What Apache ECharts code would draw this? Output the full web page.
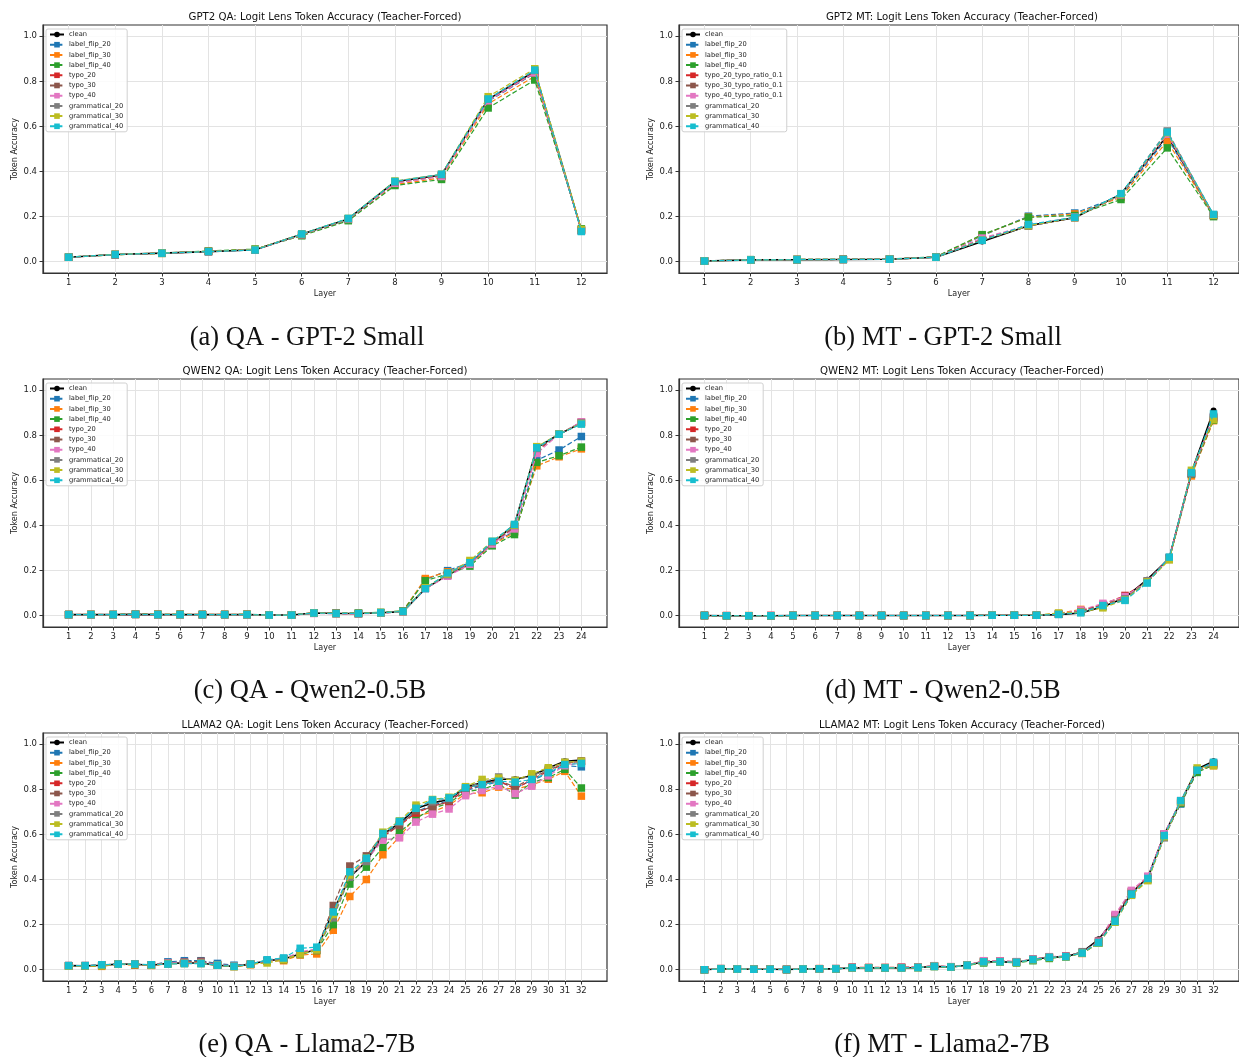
<!DOCTYPE html>
<html>
<head>
<meta charset="utf-8">
<script src="https://cdn.jsdelivr.net/npm/echarts@6/dist/echarts.min.js"></script>
<style>
  html, body { margin: 0; padding: 0; background: #fff; }
  #chart { width: 1239px; height: 1057px; }
</style>
</head>
<body>
<div id="chart"></div>
<script>
// series labels, same order as the rows of every value table below
const seriesNames = ['clean', 'label_flip_20', 'label_flip_30', 'label_flip_40', 'typo_20', 'typo_30', 'typo_40', 'grammatical_20', 'grammatical_30', 'grammatical_40']
const gpt2MtNames = ['clean', 'label_flip_20', 'label_flip_30', 'label_flip_40', 'typo_20_typo_ratio_0.1', 'typo_30_typo_ratio_0.1', 'typo_40_typo_ratio_0.1', 'grammatical_20', 'grammatical_30', 'grammatical_40']
const seriesColors = ['#000000', '#1f77b4', '#ff7f0e', '#2ca02c', '#d62728', '#8c564b', '#e377c2', '#7f7f7f', '#bcbd22', '#17becf']

const layers12 = [1, 2, 3, 4, 5, 6, 7, 8, 9, 10, 11, 12]
const layers24 = [1, 2, 3, 4, 5, 6, 7, 8, 9, 10, 11, 12, 13, 14, 15, 16, 17, 18, 19, 20, 21, 22, 23, 24]
const layers32 = [1, 2, 3, 4, 5, 6, 7, 8, 9, 10, 11, 12, 13, 14, 15, 16, 17, 18, 19, 20, 21, 22, 23, 24, 25, 26, 27, 28, 29, 30, 31, 32]
const yTicks = [0, 0.2, 0.4, 0.6, 0.8, 1.0]

const gpt2QA = [
  [0.020, 0.032, 0.038, 0.045, 0.053, 0.122, 0.190, 0.355, 0.385, 0.720, 0.845, 0.140],
  [0.020, 0.032, 0.038, 0.046, 0.054, 0.120, 0.188, 0.350, 0.380, 0.712, 0.835, 0.138],
  [0.020, 0.031, 0.037, 0.046, 0.054, 0.118, 0.185, 0.342, 0.372, 0.700, 0.822, 0.142],
  [0.021, 0.031, 0.037, 0.048, 0.056, 0.115, 0.182, 0.338, 0.365, 0.682, 0.806, 0.146],
  [0.020, 0.032, 0.038, 0.045, 0.053, 0.121, 0.189, 0.352, 0.382, 0.718, 0.840, 0.139],
  [0.020, 0.032, 0.038, 0.045, 0.053, 0.121, 0.189, 0.350, 0.380, 0.716, 0.838, 0.140],
  [0.020, 0.032, 0.038, 0.045, 0.053, 0.120, 0.188, 0.348, 0.378, 0.714, 0.838, 0.139],
  [0.020, 0.032, 0.038, 0.045, 0.053, 0.122, 0.190, 0.354, 0.386, 0.722, 0.848, 0.137],
  [0.020, 0.033, 0.039, 0.046, 0.054, 0.123, 0.192, 0.358, 0.388, 0.732, 0.856, 0.143],
  [0.020, 0.032, 0.038, 0.045, 0.052, 0.123, 0.192, 0.356, 0.388, 0.722, 0.850, 0.134]
]

const gpt2MT = [
  [0.003, 0.008, 0.009, 0.010, 0.011, 0.020, 0.090, 0.160, 0.195, 0.300, 0.560, 0.205],
  [0.003, 0.009, 0.010, 0.011, 0.012, 0.021, 0.115, 0.202, 0.216, 0.292, 0.550, 0.206],
  [0.003, 0.009, 0.010, 0.011, 0.012, 0.021, 0.118, 0.198, 0.212, 0.285, 0.535, 0.204],
  [0.003, 0.009, 0.010, 0.011, 0.012, 0.022, 0.120, 0.197, 0.205, 0.276, 0.505, 0.200],
  [0.003, 0.008, 0.009, 0.010, 0.011, 0.020, 0.100, 0.160, 0.196, 0.298, 0.565, 0.206],
  [0.003, 0.008, 0.009, 0.010, 0.011, 0.020, 0.102, 0.158, 0.196, 0.296, 0.568, 0.205],
  [0.003, 0.008, 0.009, 0.010, 0.011, 0.020, 0.105, 0.162, 0.198, 0.297, 0.566, 0.206],
  [0.003, 0.008, 0.009, 0.010, 0.011, 0.020, 0.095, 0.158, 0.196, 0.300, 0.580, 0.207],
  [0.003, 0.008, 0.009, 0.010, 0.011, 0.020, 0.096, 0.160, 0.196, 0.299, 0.572, 0.206],
  [0.003, 0.008, 0.009, 0.010, 0.011, 0.020, 0.095, 0.165, 0.197, 0.302, 0.575, 0.210]
]

const qwen2QA = [
  [0.005, 0.005, 0.005, 0.006, 0.005, 0.005, 0.005, 0.005, 0.005, 0.003, 0.003, 0.012, 0.010, 0.010, 0.013, 0.018, 0.120, 0.180, 0.230, 0.320, 0.405, 0.745, 0.805, 0.855],
  [0.005, 0.005, 0.005, 0.007, 0.005, 0.005, 0.005, 0.005, 0.005, 0.004, 0.004, 0.012, 0.011, 0.010, 0.013, 0.020, 0.160, 0.200, 0.235, 0.320, 0.375, 0.690, 0.735, 0.795],
  [0.005, 0.006, 0.005, 0.007, 0.006, 0.006, 0.006, 0.006, 0.006, 0.004, 0.004, 0.013, 0.011, 0.011, 0.014, 0.021, 0.165, 0.195, 0.228, 0.315, 0.370, 0.665, 0.705, 0.740],
  [0.005, 0.005, 0.005, 0.007, 0.006, 0.006, 0.005, 0.005, 0.006, 0.004, 0.004, 0.012, 0.011, 0.012, 0.015, 0.022, 0.155, 0.185, 0.220, 0.310, 0.360, 0.680, 0.710, 0.748],
  [0.005, 0.005, 0.005, 0.006, 0.005, 0.005, 0.005, 0.005, 0.005, 0.003, 0.003, 0.011, 0.010, 0.009, 0.012, 0.018, 0.122, 0.178, 0.232, 0.322, 0.390, 0.730, 0.805, 0.858],
  [0.005, 0.005, 0.005, 0.006, 0.005, 0.005, 0.005, 0.005, 0.005, 0.003, 0.003, 0.011, 0.010, 0.009, 0.012, 0.019, 0.122, 0.180, 0.232, 0.322, 0.395, 0.735, 0.806, 0.858],
  [0.004, 0.004, 0.004, 0.006, 0.004, 0.004, 0.004, 0.004, 0.004, 0.003, 0.002, 0.010, 0.009, 0.008, 0.011, 0.018, 0.120, 0.175, 0.228, 0.318, 0.385, 0.720, 0.805, 0.860],
  [0.005, 0.005, 0.005, 0.006, 0.005, 0.005, 0.005, 0.005, 0.005, 0.003, 0.003, 0.012, 0.010, 0.010, 0.013, 0.019, 0.122, 0.182, 0.238, 0.328, 0.400, 0.742, 0.806, 0.855],
  [0.005, 0.005, 0.005, 0.006, 0.005, 0.005, 0.005, 0.005, 0.005, 0.003, 0.003, 0.012, 0.010, 0.010, 0.013, 0.019, 0.124, 0.185, 0.245, 0.330, 0.402, 0.750, 0.806, 0.852],
  [0.005, 0.005, 0.005, 0.006, 0.005, 0.005, 0.005, 0.005, 0.005, 0.003, 0.003, 0.012, 0.010, 0.010, 0.013, 0.019, 0.120, 0.190, 0.235, 0.330, 0.405, 0.745, 0.805, 0.850]
]

const qwen2MT = [
  [0.001, 0.000, 0.000, 0.000, 0.001, 0.001, 0.001, 0.001, 0.001, 0.001, 0.001, 0.001, 0.001, 0.002, 0.002, 0.002, 0.005, 0.012, 0.040, 0.080, 0.160, 0.255, 0.635, 0.910],
  [0.001, 0.000, 0.000, 0.000, 0.001, 0.001, 0.001, 0.001, 0.001, 0.001, 0.001, 0.001, 0.001, 0.002, 0.002, 0.002, 0.006, 0.018, 0.045, 0.078, 0.150, 0.255, 0.630, 0.880],
  [0.001, 0.001, 0.001, 0.001, 0.001, 0.001, 0.001, 0.001, 0.001, 0.001, 0.001, 0.001, 0.001, 0.003, 0.002, 0.002, 0.010, 0.028, 0.045, 0.080, 0.150, 0.250, 0.620, 0.865],
  [0.001, 0.000, 0.000, 0.000, 0.001, 0.001, 0.001, 0.001, 0.001, 0.001, 0.001, 0.001, 0.001, 0.002, 0.002, 0.002, 0.007, 0.020, 0.040, 0.075, 0.148, 0.252, 0.628, 0.868],
  [0.001, 0.000, 0.000, 0.001, 0.001, 0.001, 0.001, 0.001, 0.001, 0.001, 0.001, 0.001, 0.001, 0.003, 0.002, 0.002, 0.008, 0.022, 0.050, 0.090, 0.152, 0.258, 0.632, 0.880],
  [0.001, 0.000, 0.000, 0.000, 0.001, 0.001, 0.001, 0.001, 0.001, 0.001, 0.001, 0.001, 0.001, 0.002, 0.002, 0.002, 0.007, 0.020, 0.048, 0.085, 0.150, 0.255, 0.630, 0.875],
  [0.001, 0.001, 0.000, 0.001, 0.001, 0.001, 0.001, 0.001, 0.001, 0.001, 0.001, 0.001, 0.001, 0.003, 0.002, 0.002, 0.008, 0.025, 0.055, 0.085, 0.152, 0.255, 0.635, 0.880],
  [0.001, 0.000, 0.000, 0.000, 0.001, 0.001, 0.001, 0.001, 0.001, 0.001, 0.001, 0.001, 0.001, 0.002, 0.002, 0.002, 0.007, 0.018, 0.042, 0.075, 0.155, 0.250, 0.630, 0.885],
  [0.001, 0.000, 0.000, 0.000, 0.001, 0.001, 0.001, 0.001, 0.001, 0.001, 0.001, 0.001, 0.001, 0.002, 0.002, 0.002, 0.012, 0.015, 0.035, 0.070, 0.150, 0.248, 0.645, 0.870],
  [0.001, 0.000, 0.000, 0.000, 0.001, 0.001, 0.001, 0.001, 0.001, 0.001, 0.001, 0.001, 0.001, 0.002, 0.002, 0.002, 0.006, 0.013, 0.045, 0.068, 0.145, 0.260, 0.635, 0.895]
]

const llama2QA = [
  [0.018, 0.017, 0.020, 0.025, 0.024, 0.020, 0.028, 0.030, 0.030, 0.020, 0.015, 0.025, 0.040, 0.048, 0.070, 0.090, 0.260, 0.410, 0.480, 0.600, 0.650, 0.715, 0.740, 0.755, 0.810, 0.830, 0.845, 0.845, 0.860, 0.895, 0.925, 0.930],
  [0.018, 0.018, 0.020, 0.025, 0.025, 0.021, 0.035, 0.040, 0.040, 0.028, 0.020, 0.025, 0.042, 0.050, 0.072, 0.092, 0.240, 0.420, 0.480, 0.590, 0.645, 0.700, 0.730, 0.750, 0.795, 0.815, 0.835, 0.805, 0.840, 0.870, 0.905, 0.900],
  [0.016, 0.016, 0.015, 0.024, 0.020, 0.019, 0.026, 0.028, 0.028, 0.020, 0.014, 0.022, 0.038, 0.040, 0.065, 0.070, 0.175, 0.325, 0.400, 0.510, 0.590, 0.680, 0.700, 0.730, 0.780, 0.785, 0.810, 0.800, 0.820, 0.845, 0.880, 0.770],
  [0.017, 0.017, 0.019, 0.025, 0.023, 0.020, 0.027, 0.030, 0.030, 0.020, 0.015, 0.024, 0.040, 0.045, 0.068, 0.085, 0.200, 0.380, 0.455, 0.543, 0.610, 0.670, 0.715, 0.740, 0.790, 0.800, 0.825, 0.775, 0.830, 0.852, 0.889, 0.806],
  [0.018, 0.018, 0.020, 0.025, 0.024, 0.020, 0.030, 0.032, 0.032, 0.022, 0.016, 0.025, 0.040, 0.048, 0.072, 0.090, 0.250, 0.420, 0.485, 0.590, 0.640, 0.695, 0.725, 0.745, 0.800, 0.820, 0.840, 0.800, 0.845, 0.880, 0.915, 0.925],
  [0.018, 0.018, 0.020, 0.025, 0.024, 0.020, 0.030, 0.034, 0.038, 0.022, 0.016, 0.025, 0.040, 0.048, 0.075, 0.090, 0.285, 0.460, 0.505, 0.600, 0.640, 0.705, 0.720, 0.750, 0.805, 0.825, 0.840, 0.810, 0.850, 0.885, 0.915, 0.925],
  [0.018, 0.018, 0.020, 0.025, 0.024, 0.020, 0.030, 0.032, 0.032, 0.022, 0.016, 0.025, 0.040, 0.048, 0.080, 0.092, 0.250, 0.420, 0.485, 0.575, 0.585, 0.655, 0.690, 0.713, 0.772, 0.795, 0.815, 0.781, 0.814, 0.860, 0.905, 0.920],
  [0.018, 0.018, 0.020, 0.025, 0.024, 0.020, 0.028, 0.030, 0.030, 0.020, 0.015, 0.025, 0.040, 0.048, 0.070, 0.088, 0.230, 0.410, 0.480, 0.600, 0.655, 0.720, 0.745, 0.760, 0.810, 0.830, 0.855, 0.840, 0.860, 0.890, 0.920, 0.925],
  [0.016, 0.017, 0.018, 0.025, 0.024, 0.020, 0.027, 0.028, 0.028, 0.020, 0.014, 0.024, 0.030, 0.045, 0.070, 0.088, 0.245, 0.420, 0.495, 0.610, 0.660, 0.730, 0.755, 0.765, 0.812, 0.844, 0.850, 0.840, 0.869, 0.896, 0.920, 0.925],
  [0.018, 0.018, 0.022, 0.025, 0.025, 0.022, 0.025, 0.027, 0.027, 0.020, 0.015, 0.025, 0.044, 0.052, 0.095, 0.100, 0.256, 0.434, 0.494, 0.604, 0.658, 0.716, 0.753, 0.762, 0.807, 0.821, 0.836, 0.832, 0.844, 0.874, 0.910, 0.915]
]

const llama2MT = [
  [0.000, 0.004, 0.003, 0.002, 0.002, 0.001, 0.003, 0.004, 0.004, 0.009, 0.008, 0.008, 0.008, 0.010, 0.015, 0.012, 0.020, 0.035, 0.035, 0.033, 0.045, 0.055, 0.058, 0.078, 0.135, 0.225, 0.340, 0.410, 0.600, 0.745, 0.890, 0.925],
  [0.000, 0.005, 0.004, 0.002, 0.002, 0.001, 0.003, 0.004, 0.005, 0.010, 0.009, 0.009, 0.010, 0.011, 0.016, 0.012, 0.020, 0.036, 0.036, 0.034, 0.044, 0.054, 0.058, 0.075, 0.120, 0.215, 0.335, 0.405, 0.595, 0.735, 0.880, 0.915],
  [0.000, 0.005, 0.004, 0.003, 0.003, 0.002, 0.004, 0.005, 0.005, 0.011, 0.010, 0.010, 0.011, 0.012, 0.017, 0.013, 0.022, 0.038, 0.037, 0.035, 0.046, 0.056, 0.060, 0.072, 0.118, 0.218, 0.338, 0.405, 0.598, 0.740, 0.882, 0.905],
  [0.000, 0.004, 0.003, 0.002, 0.002, 0.001, 0.003, 0.004, 0.004, 0.009, 0.007, 0.007, 0.008, 0.009, 0.014, 0.011, 0.019, 0.030, 0.034, 0.030, 0.040, 0.050, 0.057, 0.073, 0.118, 0.212, 0.332, 0.400, 0.590, 0.738, 0.875, 0.908],
  [0.000, 0.004, 0.003, 0.002, 0.002, 0.001, 0.003, 0.004, 0.004, 0.010, 0.009, 0.009, 0.010, 0.011, 0.016, 0.013, 0.021, 0.038, 0.038, 0.035, 0.046, 0.057, 0.060, 0.076, 0.125, 0.235, 0.345, 0.410, 0.602, 0.748, 0.885, 0.915],
  [0.000, 0.004, 0.003, 0.002, 0.002, 0.001, 0.003, 0.004, 0.004, 0.010, 0.009, 0.009, 0.010, 0.011, 0.016, 0.013, 0.021, 0.038, 0.038, 0.035, 0.046, 0.056, 0.060, 0.076, 0.128, 0.240, 0.348, 0.412, 0.602, 0.748, 0.885, 0.915],
  [0.000, 0.005, 0.004, 0.003, 0.003, 0.002, 0.004, 0.005, 0.005, 0.011, 0.010, 0.010, 0.011, 0.012, 0.018, 0.014, 0.022, 0.040, 0.039, 0.036, 0.047, 0.058, 0.060, 0.076, 0.126, 0.245, 0.352, 0.415, 0.603, 0.750, 0.885, 0.915],
  [0.000, 0.004, 0.003, 0.002, 0.002, 0.001, 0.003, 0.004, 0.004, 0.009, 0.008, 0.008, 0.008, 0.010, 0.015, 0.012, 0.020, 0.035, 0.035, 0.033, 0.045, 0.055, 0.058, 0.080, 0.122, 0.222, 0.338, 0.400, 0.585, 0.742, 0.885, 0.910],
  [0.000, 0.004, 0.003, 0.002, 0.002, 0.001, 0.003, 0.004, 0.004, 0.009, 0.008, 0.008, 0.008, 0.010, 0.015, 0.012, 0.020, 0.034, 0.034, 0.032, 0.044, 0.054, 0.057, 0.074, 0.118, 0.212, 0.330, 0.395, 0.590, 0.745, 0.895, 0.905],
  [0.000, 0.004, 0.003, 0.002, 0.002, 0.001, 0.003, 0.004, 0.004, 0.009, 0.008, 0.008, 0.008, 0.010, 0.015, 0.012, 0.020, 0.035, 0.035, 0.033, 0.045, 0.055, 0.058, 0.074, 0.120, 0.215, 0.335, 0.405, 0.595, 0.750, 0.885, 0.920]
]

const FONT = 'DejaVu Sans'
const SERIF = 'Liberation Serif'

// layout of the 3x2 panel grid (pixels)
const panels = [
  { title: 'GPT2 QA: Logit Lens Token Accuracy (Teacher-Forced)', caption: '(a) QA - GPT-2 Small', layers: layers12, values: gpt2QA, names: seriesNames, left: 43, top: 25, capX: 307, capY: 338 },
  { title: 'GPT2 MT: Logit Lens Token Accuracy (Teacher-Forced)', caption: '(b) MT - GPT-2 Small', layers: layers12, values: gpt2MT, names: gpt2MtNames, left: 679, top: 25, capX: 943, capY: 338 },
  { title: 'QWEN2 QA: Logit Lens Token Accuracy (Teacher-Forced)', caption: '(c) QA - Qwen2-0.5B', layers: layers24, values: qwen2QA, names: seriesNames, left: 43, top: 379, capX: 310, capY: 691 },
  { title: 'QWEN2 MT: Logit Lens Token Accuracy (Teacher-Forced)', caption: '(d) MT - Qwen2-0.5B', layers: layers24, values: qwen2MT, names: seriesNames, left: 679, top: 379, capX: 943, capY: 691 },
  { title: 'LLAMA2 QA: Logit Lens Token Accuracy (Teacher-Forced)', caption: '(e) QA - Llama2-7B', layers: layers32, values: llama2QA, names: seriesNames, left: 43, top: 733, capX: 307, capY: 1045 },
  { title: 'LLAMA2 MT: Logit Lens Token Accuracy (Teacher-Forced)', caption: '(f) MT - Llama2-7B', layers: layers32, values: llama2MT, names: seriesNames, left: 679, top: 733, capX: 942, capY: 1045 }
]

const PLOT_H = 248

const grids = []
const xAxes = []
const yAxes = []
const legends = []
const series = []
const graphics = []

panels.forEach((p, i) => {
  const n = p.layers.length
  const pad = 0.05 * (n - 1)
  const w = p.left > 400 ? 566 : 564

  grids.push({
    left: p.left, top: p.top, width: w, height: PLOT_H,
    show: true, borderColor: '#333', borderWidth: 1.2, backgroundColor: 'transparent'
  })

  xAxes.push({
    gridIndex: i, type: 'value',
    min: p.layers[0] - pad, max: p.layers[n - 1] + pad,
    name: 'Layer', nameLocation: 'middle', nameGap: 17,
    nameTextStyle: { fontFamily: FONT, fontSize: 8, color: '#222' },
    axisLine: { show: true, onZero: false, lineStyle: { color: '#333', width: 1.2 } },
    axisTick: { show: true, length: 3.5, customValues: p.layers, lineStyle: { color: '#333' } },
    axisLabel: { customValues: p.layers, fontFamily: FONT, fontSize: 8.5, color: '#222', margin: 5 },
    splitLine: { show: true, lineStyle: { color: '#e3e3e3', width: 1 } }
  })

  yAxes.push({
    gridIndex: i, type: 'value', min: -0.05, max: 1.05,
    name: 'Token Accuracy', nameLocation: 'middle', nameGap: 24,
    nameTextStyle: { fontFamily: FONT, fontSize: 8, color: '#222' },
    axisLine: { show: true, onZero: false, lineStyle: { color: '#333', width: 1.2 } },
    axisTick: { show: true, length: 3.5, customValues: yTicks, lineStyle: { color: '#333' } },
    axisLabel: { customValues: yTicks, formatter: (v) => v.toFixed(1), fontFamily: FONT, fontSize: 8.5, color: '#222', margin: 6 },
    splitLine: { show: true, lineStyle: { color: '#e3e3e3', width: 1 } }
  })

  legends.push({
    orient: 'vertical', left: p.left + 3, top: p.top + 4,
    data: p.names,
    itemWidth: 14, itemHeight: 7, itemGap: 3.2,
    textStyle: { fontFamily: FONT, fontSize: 6.7, color: '#222' },
    backgroundColor: 'rgba(255,255,255,0.85)',
    borderColor: '#d0d0d0', borderWidth: 1, borderRadius: 2,
    padding: [2, 4, 2, 3],
    selectedMode: false
  })

  p.values.forEach((vals, k) => {
    const clean = k === 0
    series.push({
      type: 'line', name: p.names[k],
      xAxisIndex: i, yAxisIndex: i,
      data: p.layers.map((l, j) => [l, vals[j]]),
      symbol: clean ? 'circle' : 'rect',
      symbolSize: clean ? 6 : 7.5,
      showAllSymbol: true,
      color: seriesColors[k],
      itemStyle: { color: seriesColors[k] },
      lineStyle: { color: seriesColors[k], width: clean ? 1.6 : 1.2, type: clean ? 'solid' : [5, 2.4] },
      emphasis: { disabled: true },
      z: 2 + k * 0.01
    })
  })

  graphics.push({
    type: 'text',
    x: p.left + w / 2, y: p.top - 8,
    style: { text: p.title, fontFamily: FONT, fontSize: 10.2, fill: '#111', align: 'center', verticalAlign: 'middle' }
  })
  graphics.push({
    type: 'text',
    x: p.capX, y: p.capY,
    style: { text: p.caption, fontFamily: SERIF, fontSize: 26.5, fill: '#111', align: 'center', verticalAlign: 'middle' }
  })
})

const chart = echarts.init(document.getElementById('chart'), null, { renderer: 'canvas' })
chart.setOption({
  animation: false,
  backgroundColor: '#fff',
  grid: grids,
  xAxis: xAxes,
  yAxis: yAxes,
  legend: legends,
  series: series,
  graphic: graphics
})
</script>
</body>
</html>
